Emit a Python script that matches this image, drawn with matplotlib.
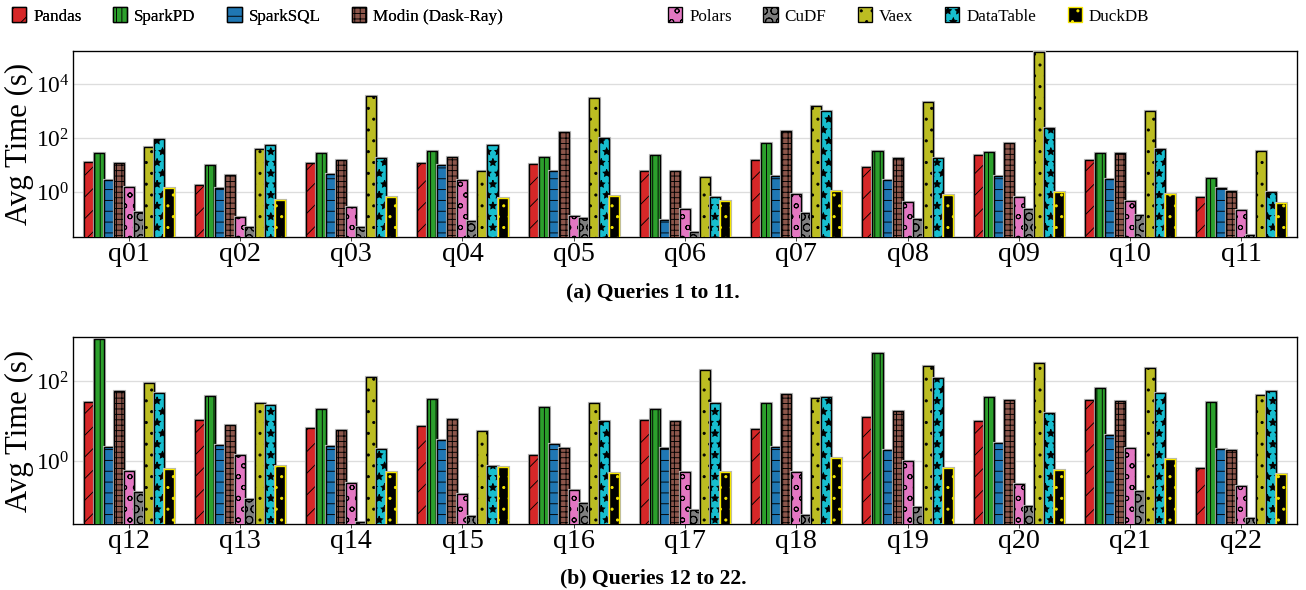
import numpy as np
import matplotlib
matplotlib.use("Agg")
import matplotlib.pyplot as plt
import matplotlib.patheffects as pe
from matplotlib.patches import Patch

plt.rcParams['font.family'] = ['Liberation Serif', 'DejaVu Serif']
plt.rcParams['mathtext.fontset'] = 'stix'
plt.rcParams['hatch.linewidth'] = 1.0

systems = ["Pandas", "SparkPD", "SparkSQL", "Modin (Dask-Ray)", "Polars",
           "CuDF", "Vaex", "DataTable", "DuckDB"]
colors = ["tab:red", "tab:green", "tab:blue", "tab:brown", "tab:pink",
          "tab:gray", "tab:olive", "tab:cyan", "black"]
hatches = ["/", "||", "-", "++", "o", "O", ".", "*", "."]
edges = ["black"] * 8 + ["#f5e600"]

queries_a = ["q01", "q02", "q03", "q04", "q05", "q06", "q07", "q08", "q09", "q10", "q11"]
queries_b = ["q12", "q13", "q14", "q15", "q16", "q17", "q18", "q19", "q20", "q21", "q22"]

# avg time (s) per system, one value per query
pandas_a   = [12.9, 1.9, 11.5, 11.5, 10.6, 6.3, 15.4, 8.2, 23.5, 14.9, 0.65]
sparkpd_a  = [27, 10.3, 27, 32, 20, 23, 65, 32, 29.5, 27, 3.2]
sparksql_a = [2.7, 1.4, 4.8, 9.7, 6.0, 0.089, 3.8, 2.7, 3.8, 3.1, 1.4]
modin_a    = [11.5, 4.3, 16, 20, 170, 6.3, 187, 17.7, 65, 28, 1.12]
polars_a   = [1.5, 0.115, 0.28, 2.9, 0.13, 0.23, 0.82, 0.44, 0.65, 0.45, 0.22]
cudf_a     = [0.19, 0.049, 0.049, 0.082, 0.105, 0.032, 0.17, 0.10, 0.23, 0.14, 0.025]
vaex_a     = [45, 38, 3800, 6.0, 3200, 3.5, 1580, 2280, 150000, 1000, 32]
dtable_a   = [89, 58, 17.6, 58, 97, 0.63, 1050, 18, 235, 40, 1.0]
duckdb_a   = [1.4, 0.5, 0.65, 0.6, 0.71, 0.46, 1.12, 0.75, 0.97, 0.84, 0.4]

pandas_b   = [30, 10.6, 6.8, 7.6, 1.41, 10.6, 6.3, 12.3, 10, 33.5, 0.66]
sparkpd_b  = [1100, 43, 20, 35, 23, 20, 28, 490, 40, 66, 30]
sparksql_b = [2.2, 2.5, 2.4, 3.3, 2.6, 2.1, 2.3, 1.9, 2.8, 4.4, 2.0]
modin_b    = [56, 8.1, 6.1, 11.4, 2.1, 10, 48, 17.8, 33.5, 31.6, 1.9]
polars_b   = [0.56, 1.39, 0.28, 0.15, 0.185, 0.52, 0.52, 0.98, 0.26, 2.1, 0.24]
cudf_b     = [0.17, 0.112, 0.029, 0.041, 0.091, 0.059, 0.044, 0.069, 0.076, 0.174, 0.037]
vaex_b     = [89, 29, 128, 5.6, 29, 192, 37, 233, 276, 208, 44]
dtable_b   = [50, 25.6, 2.0, 0.75, 10, 28, 39, 119, 15.5, 50, 55]
duckdb_b   = [0.64, 0.74, 0.54, 0.69, 0.49, 0.52, 1.2, 0.67, 0.58, 1.1, 0.46]

data_a = [pandas_a, sparkpd_a, sparksql_a, modin_a, polars_a, cudf_a, vaex_a, dtable_a, duckdb_a]
data_b = [pandas_b, sparkpd_b, sparksql_b, modin_b, polars_b, cudf_b, vaex_b, dtable_b, duckdb_b]

DPI = 65
W, H = 1306, 590
fig = plt.figure(figsize=(W / DPI, H / DPI), dpi=DPI)
ax1 = fig.add_axes([73 / W, 1 - 237 / H, 1224 / W, 186 / H])
ax2 = fig.add_axes([73 / W, 1 - 524 / H, 1224 / W, 187 / H])

width = 0.09
shadow = [pe.Stroke(linewidth=3.5, foreground="#b8b8b8"), pe.Normal()]


def draw(ax, queries, data, ylim, yticks):
    x = np.arange(len(queries))
    for i, vals in enumerate(data):
        bars = ax.bar(x + (i - 4) * width, vals, width, color=colors[i],
                      edgecolor=edges[i], hatch=hatches[i], linewidth=1.5,
                      zorder=3)
        for b in bars:
            b.set_path_effects(shadow)
    ax.set_yscale("log")
    ax.set_ylim(*ylim)
    ax.set_yticks(yticks)
    ax.minorticks_off()
    ax.yaxis.grid(True, color="#dddddd", linewidth=1.5, zorder=0)
    ax.set_xticks(x)
    ax.set_xticklabels(queries, fontsize=31)
    ax.set_xlim(-0.5, len(queries) - 0.5)
    ax.tick_params(axis="y", labelsize=26, length=0, pad=4)
    ax.tick_params(axis="x", length=4, pad=2)
    for s in ax.spines.values():
        s.set_linewidth(1.5)
    ax.set_ylabel("Avg Time (s)", fontsize=34, labelpad=2)


draw(ax1, queries_a, data_a, (0.0216, 1.7e5), [1, 100, 10000])
draw(ax2, queries_b, data_b, (0.0266, 1260), [1, 100])

fig.text(0.5, 1 - 292 / H, "(a) Queries 1 to 11.", ha="center", va="center",
         fontsize=24, fontweight="bold")
fig.text(0.5, 1 - 578 / H, "(b) Queries 12 to 22.", ha="center", va="center",
         fontsize=24, fontweight="bold")

handles = [Patch(facecolor=colors[i], edgecolor=edges[i], hatch=hatches[i],
                 linewidth=1.5, label=systems[i]) for i in range(len(systems))]
leg_kw = dict(loc="upper left", frameon=False, fontsize=19, handlelength=0.83,
              handleheight=1.0, columnspacing=1.85, handletextpad=0.4,
              borderpad=0, borderaxespad=0)
leg1 = fig.legend(handles=handles[:4], ncol=4, bbox_to_anchor=(12 / W, 1 - 7 / H), **leg_kw)
fig.add_artist(leg1)
fig.legend(handles=handles[4:], ncol=5, bbox_to_anchor=(668 / W, 1 - 7 / H), **leg_kw)

fig.savefig("out.png", dpi=DPI)
